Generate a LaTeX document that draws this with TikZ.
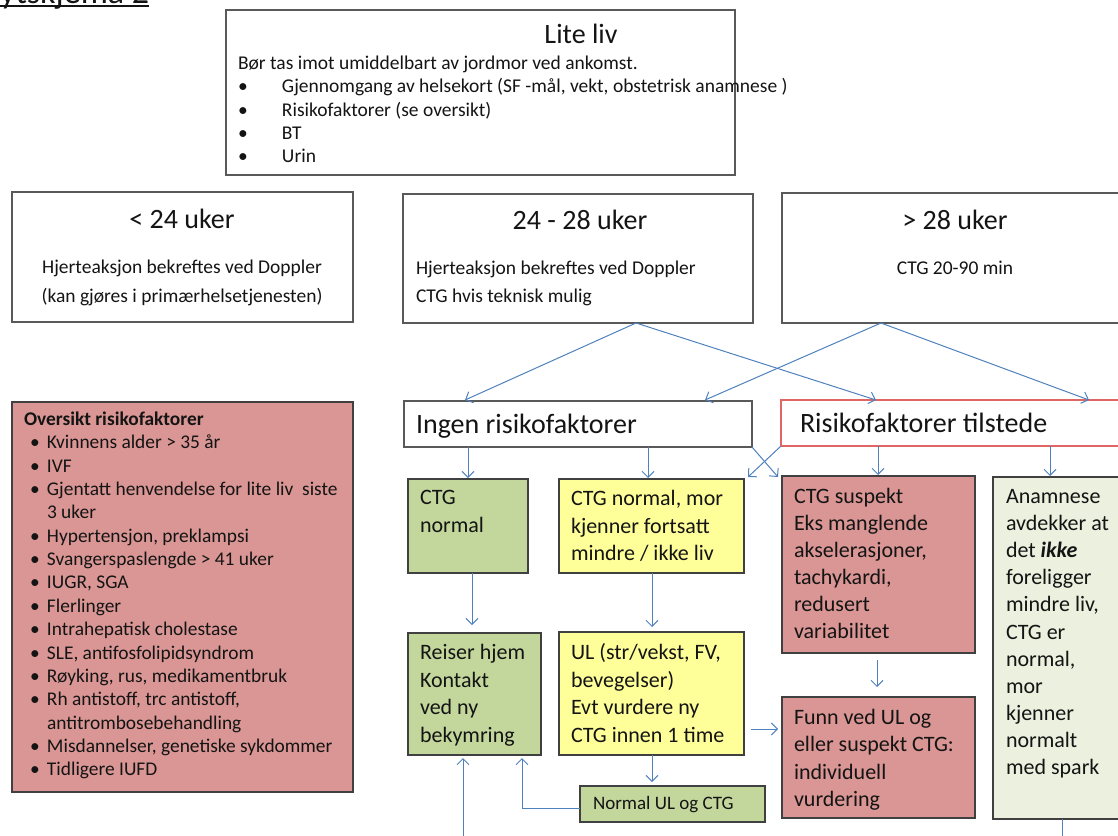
\documentclass[tikz,border=0pt]{standalone}
\usepackage{fontspec}
\setmainfont{Carlito}
\usetikzlibrary{arrows.meta}
\definecolor{arrowblue}{HTML}{4F81BD}
\definecolor{grn}{HTML}{C3D69B}
\definecolor{yel}{HTML}{FFFF99}
\definecolor{rd}{HTML}{D99694}
\definecolor{lgrn}{HTML}{EBF1DE}
\definecolor{bord}{HTML}{404040}
\definecolor{gbord}{HTML}{595959}
\definecolor{rbord}{HTML}{E06666}
\definecolor{txtc}{HTML}{141414}
\newcommand\fsz[2]{\fontsize{#1}{#2}\selectfont}
\newcommand\bul{\makebox[44pt][l]{\textbullet}}
\newcommand\lb{\hspace*{6pt}\makebox[17pt][l]{\textbullet}}
\newcommand\lind{\hspace*{23pt}}
\newcommand\bx[6]{\node[#2, anchor=north west, minimum width=#5-#3, minimum height=#6-#4] (#1) at (#3,#4) {};}
\begin{document}
\begin{tikzpicture}[x=1pt,y=-1pt,
  base/.style={inner sep=0pt, outer sep=0pt, line width=1.2pt},
  wbox/.style={base, draw=gbord, fill=white},
  rwbox/.style={base, draw=rbord, fill=white},
  gbox/.style={base, draw=bord, fill=grn},
  ybox/.style={base, draw=bord, fill=yel},
  rbox/.style={base, draw=bord, fill=rd},
  lgbox/.style={base, draw=bord, fill=lgrn},
  txt/.style={inner sep=0pt, outer sep=0pt, text=txtc},
  arr/.style={draw=arrowblue, line width=1pt, -{Straight Barb[length=6pt,width=12pt]}},
  plainline/.style={draw=arrowblue, line width=1pt}]
\useasboundingbox (0,0) rectangle (1118,835);

% title (clipped at top)
\node[txt, anchor=base west, font=\fsz{34}{40}] (ttl) at (0,3) {ytskjema 2};
\draw[line width=1.5pt, txtc] ([yshift=-3pt]ttl.base west) -- ([yshift=-3pt]ttl.base east);

% boxes
\bx{top}{wbox}{226}{10}{735}{175}
\bx{b1}{wbox}{12}{192}{353}{322}
\bx{b2}{wbox}{403}{194}{753}{323}
\bx{b3}{wbox}{782}{193}{1125}{323}
\bx{ingen}{wbox}{404}{401}{752}{447}
\bx{risiko}{rwbox}{781}{400}{1125}{446}
\bx{risk}{rbox}{12}{402}{353}{792}
\bx{ctgn}{gbox}{408}{479}{528}{573}
\bx{reiser}{gbox}{408}{633}{541}{755}
\bx{y1}{ybox}{559}{479}{744}{573}
\bx{y2}{ybox}{559}{632}{744}{755}
\bx{nul}{gbox}{580}{786}{765}{822}
\bx{susp}{rbox}{782}{476}{975}{653}
\bx{funn}{rbox}{782}{697}{975}{818}
\bx{anam}{lgbox}{993}{477}{1125}{819}

% texts
\node[txt, anchor=base, font=\fsz{28}{34}] (tlite) at (581,43) {Lite liv};
\node[txt, anchor=base west, font=\fsz{19.5}{23.3}] (ttop) at (238,69.5) {\begin{tabular}[t]{@{}l@{}}Bør tas imot umiddelbart av jordmor ved ankomst.\\
\bul Gjennomgang av helsekort (SF -mål, vekt, obstetrisk anamnese )\\
\bul Risikofaktorer (se oversikt)\\
\bul BT\\
\bul Urin\end{tabular}};

\node[txt, anchor=base, font=\fsz{28}{34}] (tb1) at (182,228.5) {< 24 uker};
\node[txt, anchor=base, font=\fsz{19.5}{29}] (sb1) at (182,273.5) {\begin{tabular}[t]{@{}c@{}}Hjerteaksjon bekreftes ved Doppler\\(kan gjøres i primærhelsetjenesten)\end{tabular}};
\node[txt, anchor=base, font=\fsz{28}{34}] (tb2) at (580,229) {24 - 28 uker};
\node[txt, anchor=base west, font=\fsz{19.5}{28}] (sb2) at (416,274.5) {\begin{tabular}[t]{@{}l@{}}Hjerteaksjon bekreftes ved Doppler\\CTG hvis teknisk mulig\end{tabular}};
\node[txt, anchor=base, font=\fsz{28}{34}] (tb3) at (955,229) {> 28 uker};
\node[txt, anchor=base, font=\fsz{19.5}{28}] (sb3) at (955,274.5) {CTG 20-90 min};

\node[txt, anchor=base west, font=\fsz{28}{34}] (tingen) at (416,433.5) {Ingen risikofaktorer};
\node[txt, anchor=base west, font=\fsz{28}{34}] (trisiko) at (800,432) {Risikofaktorer tilstede};

\node[txt, anchor=base west, font=\fsz{19.4}{23.35}] (trisk) at (24,425.5) {\begin{tabular}[t]{@{}l@{}}\textbf{Oversikt risikofaktorer}\\
\lb Kvinnens alder > 35 år\\
\lb IVF\\
\lb Gjentatt henvendelse for lite liv\ \ siste\\
\lind 3 uker\\
\lb Hypertensjon, preklampsi\\
\lb Svangerspaslengde > 41 uker\\
\lb IUGR, SGA\\
\lb Flerlinger\\
\lb Intrahepatisk cholestase\\
\lb SLE, antifosfolipidsyndrom\\
\lb Røyking, rus, medikamentbruk\\
\lb Rh antistoff, trc antistoff,\\
\lind antitrombosebehandling\\
\lb Misdannelser, genetiske sykdommer\\
\lb Tidligere IUFD\end{tabular}};

\node[txt, anchor=base west, font=\fsz{22}{27.5}] (tctgn) at (420,504.5) {\begin{tabular}[t]{@{}l@{}}CTG\\normal\end{tabular}};
\node[txt, anchor=base west, font=\fsz{22}{27.5}] (treiser) at (420,659.5) {\begin{tabular}[t]{@{}l@{}}Reiser hjem\\Kontakt\\ved ny\\bekymring\end{tabular}};
\node[txt, anchor=base west, font=\fsz{22}{27.5}] (ty1) at (571,505.5) {\begin{tabular}[t]{@{}l@{}}CTG normal, mor\\kjenner fortsatt\\mindre / ikke liv\end{tabular}};
\node[txt, anchor=base west, font=\fsz{22}{27.5}] (ty2) at (571,659.5) {\begin{tabular}[t]{@{}l@{}}UL (str/vekst, FV,\\bevegelser)\\Evt vurdere ny\\CTG innen 1 time\end{tabular}};
\node[txt, anchor=base west, font=\fsz{19}{23}] (tnul) at (593,809) {Normal UL og CTG};
\node[txt, anchor=base west, font=\fsz{22}{27}] (tsusp) at (794,503.5) {\begin{tabular}[t]{@{}l@{}}CTG suspekt\\Eks manglende\\akselerasjoner,\\tachykardi,\\redusert\\variabilitet\end{tabular}};
\node[txt, anchor=base west, font=\fsz{22}{27.3}] (tfunn) at (794,724.5) {\begin{tabular}[t]{@{}l@{}}Funn ved UL og\\eller suspekt CTG:\\individuell\\vurdering\end{tabular}};
\node[txt, anchor=base west, font=\fsz{22}{27.1}] (tanam) at (1006,503.5) {\begin{tabular}[t]{@{}l@{}}Anamnese\\avdekker at\\det \textbf{\textit{ikke}}\\foreligger\\mindre liv,\\CTG er\\normal,\\mor\\kjenner\\normalt\\med spark\end{tabular}};

% free ends
\coordinate (bot1) at (463,845);
\coordinate (bot2) at (1062,845);

% connectors
\draw[arr] ([xshift=233pt]b2.south west) -- ([xshift=61pt,yshift=1pt]ingen.north west);
\draw[arr] ([xshift=233pt]b2.south west) -- ([xshift=95pt]risiko.north west);
\draw[arr] ([xshift=99pt]b3.south west) -- ([xshift=301pt,yshift=1pt]ingen.north west);
\draw[arr] ([xshift=99pt]b3.south west) -- ([xshift=308pt]risiko.north west);
\draw[arr] ([xshift=64pt]ingen.south west) -- ([xshift=60pt,yshift=1pt]ctgn.north west);
\draw[arr] ([xshift=244pt]ingen.south west) -- ([xshift=89pt,yshift=1pt]y1.north west);
\draw[arr] (ingen.south east) -- ([xshift=-4pt,yshift=-1pt]susp.north west);
\draw[arr] (risiko.south west) -- ([xshift=4pt,yshift=2pt]y1.north east);
\draw[arr] ([xshift=97pt]risiko.south west) -- ([xshift=96pt,yshift=1pt]susp.north west);
\draw[arr] ([xshift=269pt]risiko.south west) -- ([xshift=57pt,yshift=1pt]anam.north west);
\draw[arr] ([xshift=64pt]ctgn.south west) -- ([xshift=64pt,yshift=8pt]reiser.north west);
\draw[arr] ([xshift=93pt]y1.south west) -- ([xshift=93pt,yshift=5pt]y2.north west);
\draw[arr] ([xshift=7pt,yshift=26pt]y2.south east) -- ([xshift=-4pt,yshift=-32pt]funn.north west);
\draw[arr] ([xshift=93pt]y2.south west) -- ([xshift=72pt,yshift=4pt]nul.north west);
\draw[arr] ([yshift=-4pt]nul.west) -| ([xshift=114pt,yshift=-3pt]reiser.south west);
\draw[arr] (bot1) -- ([xshift=55pt,yshift=-3pt]reiser.south west);
\draw[arr] ([xshift=95pt,yshift=-7pt]susp.south west) -- ([xshift=95pt,yshift=10pt]funn.north west);
\draw[plainline] ([xshift=69pt]anam.south west) -- (bot2);
\end{tikzpicture}
\end{document}
